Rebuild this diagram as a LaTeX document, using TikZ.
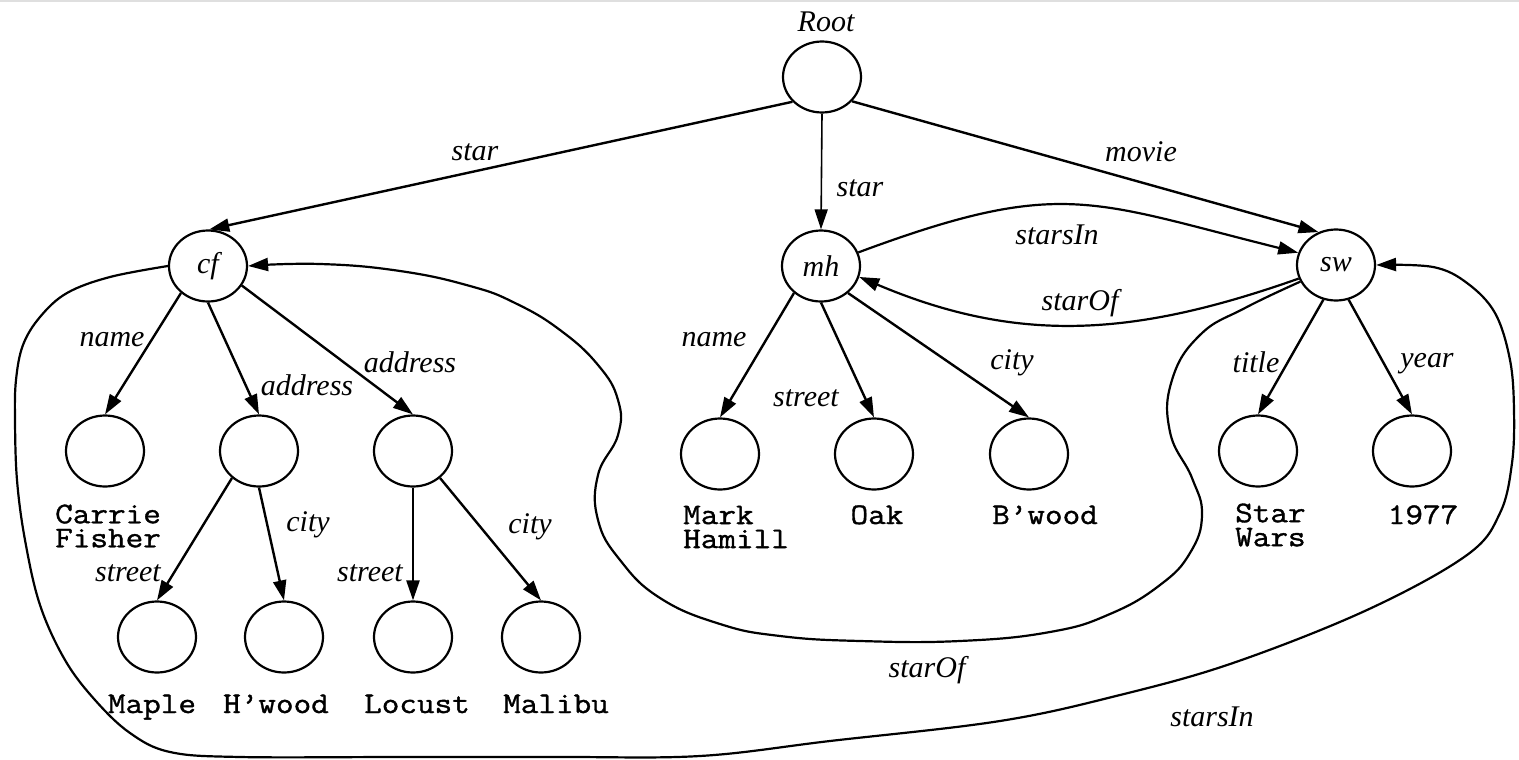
\documentclass[tikz,border=0pt]{standalone}
\usepackage{fontspec}
\setmainfont{Liberation Serif}
\newfontfamily\valtt{Latin Modern Mono}[FakeStretch=1.14, FakeBold=1.2]
\usetikzlibrary{shapes.geometric,arrows.meta}

\newcommand\edgefont{\itshape\fontsize{30}{34}\selectfont}
\newcommand\valfont{\valtt\fontsize{30}{24}\selectfont}

\tikzset{
  obj/.style={ellipse, draw, line width=2.2pt, minimum width=78pt,
              minimum height=71pt, inner sep=0pt, font=\edgefont},
  lab/.style={font=\edgefont, inner sep=0pt},
  val/.style={font=\valfont, inner sep=0pt},
  edge/.style={line width=2.4pt, -{Triangle[length=20pt,width=13pt]}},
  curve/.style={line width=2.2pt, -{Triangle[length=20pt,width=13pt]}},
}

\begin{document}
\begin{tikzpicture}[x=1pt,y=-1pt]
\useasboundingbox (0,0) rectangle (1519,760);
\draw[gray!25, line width=2pt] (0,1) -- (1519,1);

% objects
\node[obj] (root) at (822,77) {};
\node[lab] (rootlab) at (826,22) {Root};
\node[obj] (cf) at (208,266) {cf};
\node[obj] (mh) at (821,266) {mh};
\node[obj] (sw) at (1336,265) {sw};

\node[obj] (carrie) at (105,451) {};
\node[obj] (adr1)   at (259,451) {};
\node[obj] (adr2)   at (413,451) {};
\node[obj] (mark)   at (720,454) {};
\node[obj] (oak)    at (874,454) {};
\node[obj] (bwood)  at (1029,454) {};
\node[obj] (star)   at (1258,451) {};
\node[obj] (year)   at (1412,451) {};

\node[obj] (maple)  at (157,637) {};
\node[obj] (hwood)  at (284,637) {};
\node[obj] (locust) at (413,637) {};
\node[obj] (malibu) at (541,637) {};

% atomic values
\node[val, align=left, anchor=west] (vcarrie) at (55,526) {Carrie\\Fisher};
\node[val, anchor=base] (vmaple)  at (152,713) {Maple};
\node[val, anchor=base] (vhwood)  at (276,713) {H’wood};
\node[val, anchor=base] (vlocust) at (417,713) {Locust};
\node[val, anchor=base] (vmalibu) at (556,713) {Malibu};
\node[val, align=left, anchor=west] (vmark) at (683,527) {Mark\\Hamill};
\node[val, anchor=base] (voak)    at (877,524) {Oak};
\node[val, anchor=base] (vbwood)  at (1045,524) {B’wood};
\node[val, align=left, anchor=west] (vstar) at (1235,525) {Star\\Wars};
\node[val, anchor=base] (vyear)   at (1423,524) {1977};

% tree edges
\draw[edge] (root.220) -- (cf.88);
\draw[edge, line width=1.6pt] (root.south) -- (mh.north);
\draw[edge] (root.321) -- (sw.118);
\draw[edge] (cf.225) -- (carrie.north);
\draw[edge] (cf.south) -- (adr1.north);
\draw[edge] (cf.330) -- (adr2.north);
\draw[edge] (adr1.225) -- (maple.north);
\draw[edge] (adr1.south) -- (hwood.north);
\draw[edge] (adr2.south) -- (locust.north);
\draw[edge] (adr2.315) -- (malibu.north);
\draw[edge] (mh.225) -- (mark.north);
\draw[edge] (mh.south) -- (oak.north);
\draw[edge] (mh.315) -- (bwood.north);
\draw[edge] (sw.250) -- (star.north);
\draw[edge] (sw.290) -- (year.north);

% references between objects
\draw[curve] (mh.20) .. controls (1061,177) and (1090,201) .. (sw.162);
\draw[curve] (sw.200) .. controls (1136,336) and (1020,345) .. (mh.344);

\draw[curve] plot[smooth, tension=0.75] coordinates {
  (sw.205) (1245,308) (1200,335) (1172,380) (1170,432) (1192,478)
  (1202,515) (1190,553) (1160,585) (1110,614) (1050,632) (960,641)
  (860,641) (780,636) (720,624) (660,598) (620,560) (598,520)
  (598,475) (618,435) (618,400) (598,365) (560,330) (515,303)
  (470,286) (400,271) (320,264) (cf.east)};

\draw[curve] plot[smooth, tension=0.6] coordinates {
  (cf.west) (110,277) (67,293) (40,317) (23,345) (16,380) (15,420)
  (17,480) (25,540) (40,605) (65,660) (95,700) (130,733) (170,752)
  (240,757) (400,757) (560,757) (700,756) (830,741) (1000,721)
  (1120,695) (1233,663) (1367,610) (1467,555) (1500,513) (1512,463)
  (1514,410) (1510,360) (1495,313) (1467,283) (1433,267) (sw.east)};

% edge labels
\node[lab] (l1)  at (475,152)  {star};
\node[lab] (l2)  at (860,188)  {star};
\node[lab] (l3)  at (1141,152) {movie};
\node[lab] (l4)  at (1057,235) {starsIn};
\node[lab] (l5)  at (1080,303) {starOf};
\node[lab] (l6)  at (112,340)  {name};
\node[lab] (l7)  at (307,385)  {address};
\node[lab] (l8)  at (410,362)  {address};
\node[lab] (l9)  at (308,525)  {city};
\node[lab] (l10) at (128,573)  {street};
\node[lab] (l11) at (370,573)  {street};
\node[lab] (l12) at (530,527)  {city};
\node[lab] (l13) at (714,340)  {name};
\node[lab] (l14) at (806,398)  {street};
\node[lab] (l15) at (1012,363) {city};
\node[lab] (l16) at (1256,362) {title};
\node[lab] (l17) at (1427,364) {year};
\node[lab] (l18) at (927,670)  {starOf};
\node[lab] (l19) at (1212,717) {starsIn};
\end{tikzpicture}
\end{document}
